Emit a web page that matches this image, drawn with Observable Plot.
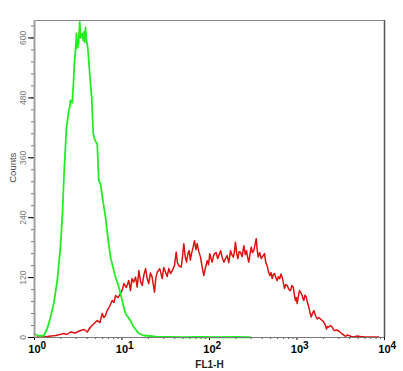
<!DOCTYPE html>
<html>
<head>
<meta charset="utf-8">
<script src="https://cdn.jsdelivr.net/npm/d3@7"></script>
<script src="https://cdn.jsdelivr.net/npm/@observablehq/plot@0.6"></script>
<style>
html,body{margin:0;padding:0;background:#fff;}
#chart{width:403px;height:371px;}
</style>
</head>
<body>
<div id="chart"></div>
<script>
// FL1-H (log scale) and counts
const greenX = [1.0,1.03,1.15,1.28,1.4,1.52,1.66,1.82,1.98,2.09,2.16,2.2,2.32,2.47,2.53,2.58,2.7,2.81,2.87,2.95,3.02,3.08,3.18,3.29,3.36,3.51,3.6,3.67,3.74,3.83,3.93,4.06,4.17,4.27,4.37,4.5,4.69,4.9,5.21,5.43,5.68,6.1,6.48,6.9,7.39,7.9,8.43,9.19,10.05,10.96,12.5,13.6,15.6,17.75,21,25.3,35,50,79,120,200,294];
const greenY = [8,6,3,4,18,40,68,114,181,250,314,345,420,455,462,475,470,520,555,578,609,580,589,632,600,609,595,612,591,621,595,581,555,530,508,481,409,395,388,314,308,270,241,200,161,140,121,101,74,48,34,21,8,4,3,1,1,0.5,1,0.5,1,0.5];

const redX = [1.07,1.2,1.4,1.55,1.74,1.95,2.16,2.35,2.58,2.9,3.36,3.7,4.0,4.37,4.8,5.21,5.6,5.94,6.2,6.48,6.77,7.2,7.73,8.1,8.43,9.0,9.61,10.1,10.5,11.2,11.96,12.5,13.0,13.6,14.3,14.9,15.6,16.3,17.0,17.8,18.6,19.4,20.2,21.1,22.1,23.5,24.4,25.3,27.0,28.8,30.0,31.4,32.8,34.3,35.9,37.5,39.8,41.6,43.0,44.6,47.5,49.0,50.9,52.7,54.6,56.6,58.6,60.4,62.3,64.8,67.4,70.0,72.3,75.5,78.9,82.5,86.1,90.0,94.1,97.3,100.8,104,107.4,110.6,114,119,124,129,134,140,146,152,159,166,174,180,187,192,198,205,211,218,226,236,247,256,265,273,281,290,300,310,321,331,342,351,360,375,390,407,425,440,456,472,489,505,521,537,553,573,594,614,636,656,677,698,720,746,773,808,843,873,905,932,961,983,1005,1035,1068,1107,1147,1170,1196,1234,1274,1318,1364,1408,1453,1503,1556,1625,1702,1778,1856,1939,2025,2098,2174,2240,2309,2415,2526,2603,2683,2840,3004,3140,3285,3430,3584,3740,3908,4170,4458,4870,5318,6070,6918,7700,8606];
const redY = [1,1,2,3,4,6,8,6,11,9,14,16,11,21,28,34,30,48,40,44,54,62,74,70,84,80,88,96,108,100,114,94,118,111,121,101,134,112,104,126,138,118,108,129,121,91,120,131,138,118,140,131,122,138,128,134,144,171,150,144,141,160,188,162,151,168,174,155,168,180,194,176,188,172,161,141,124,140,154,146,168,158,151,162,168,170,158,166,174,160,151,158,164,150,174,166,161,170,191,168,158,172,171,162,184,166,174,160,151,166,181,170,174,186,198,175,161,170,158,163,168,150,144,132,124,130,118,126,128,120,114,122,118,127,121,110,98,106,104,96,94,104,101,86,74,80,68,82,94,90,84,78,74,85,81,70,61,50,41,48,54,44,37,40,37,34,31,26,17,22,21,24,21,16,14,15,13,10,7,5,2,5,4,2,1,3,2,1,1,1,1];

const green = greenX.map((x,i)=>({x, y: greenY[i]}));
const red = redX.map((x,i)=>({x, y: redY[i]}));

const xMajor = [1,10,100,1000,10000];
const xMinor = [];
for (const d of [1,10,100,1000]) for (let k=2;k<=9;k++) xMinor.push(d*k);
const yMajor = [0,120,240,360,480,600];
const yMinor = d3.range(0, 636, 24);

const chart = Plot.plot({
  width: 403,
  height: 371,
  marginLeft: 34,
  marginRight: 19,
  marginTop: 20,
  marginBottom: 34,
  style: {background: "#fff", fontFamily: "Arial, 'Liberation Sans', sans-serif"},
  x: {type: "log", domain: [1, 10000], axis: null},
  y: {domain: [0, 635], axis: null},
  marks: [
    Plot.axisY(yMinor, {tickSize: 3, tickFormat: () => "", stroke: "#777", label: null}),
    Plot.axisY(yMajor, {tickSize: 6, tickRotate: -90, fontSize: 8.5, fill: "#777", tickPadding: 3, tickFormat: d => String(d), label: null}),
    Plot.axisX(xMinor, {tickSize: 2, tickFormat: () => "", stroke: "#555", label: null}),
    Plot.axisX(xMajor, {tickSize: 3, fontSize: 11, fontWeight: "bold", fill: "#000", tickPadding: 5, tickFormat: d => "10|" + Math.round(Math.log10(d)), label: null}),
    Plot.ruleY([635], {stroke: "#8a8a8a", strokeWidth: 1}),
    Plot.ruleX([10000], {stroke: "#555", strokeWidth: 1.5}),
    Plot.line(red, {x: "x", y: "y", stroke: "#dd1111", strokeWidth: 1.5}),
    Plot.line(green, {x: "x", y: "y", stroke: "#22ee22", strokeWidth: 1.8}),
    Plot.ruleX([1], {stroke: "#a0a0a0", strokeWidth: 2}),
    Plot.ruleY([0], {stroke: "#777", strokeWidth: 1.2}),
    Plot.text(["FL1-H"], {frameAnchor: "bottom", dy: 30, fontSize: 10, fontWeight: "bold", fill: "#222", x: () => 100}),
    Plot.text(["Counts"], {frameAnchor: "left", dx: -22, rotate: -90, fontSize: 9.5, fill: "#444", y: () => 310})
  ]
});
// render exponents as real superscripts
d3.select(chart).selectAll("text").each(function() {
  const t = this.textContent;
  const m = /^10\|(\d)$/.exec(t);
  if (m) {
    const s = d3.select(this);
    s.text(null);
    s.append("tspan").text("10");
    s.append("tspan").attr("dy", "-0.4em").attr("font-size", 10).text(m[1]);
    s.attr("dx", "0.25em");
  }
});
document.getElementById("chart").appendChild(chart);
</script>
</body>
</html>
